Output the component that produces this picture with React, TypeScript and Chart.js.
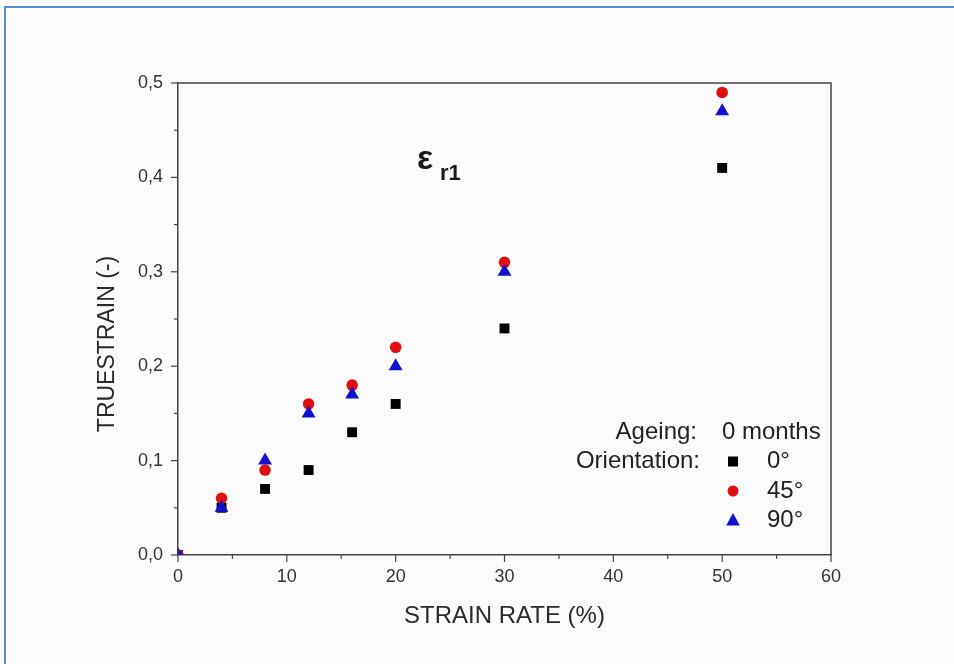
import React, { useEffect, useRef } from "react";
import { Chart, registerables } from "chart.js";

Chart.register(...registerables);

// ---- data ----
const strainRates = [0, 4, 8, 12, 16, 20, 30, 50];
const orient0 = [0, 0.05, 0.07, 0.09, 0.13, 0.16, 0.24, 0.41];
const orient45 = [0, 0.06, 0.09, 0.16, 0.18, 0.22, 0.31, 0.49];
const orient90 = [0, 0.05, 0.1, 0.15, 0.17, 0.2, 0.3, 0.47];
const seriesLabels = ["0°", "45°", "90°"];
const seriesColors = ["#000000", "#e01010", "#1212cc"];
const seriesShapes = ["rect", "circle", "triangle"];
const xTitle = "STRAIN RATE (%)";
const yTitle = "TRUESTRAIN (-)";
const ageingLabel = "Ageing:";
const ageingValue = "0 months";
const orientationLabel = "Orientation:";

const FONT = '"Liberation Sans", Arial, Helvetica, sans-serif';

const toPoints = (ys: number[]) => strainRates.map((x, i) => ({ x, y: ys[i] }));

function drawMarker(ctx: CanvasRenderingContext2D, shape: string, x: number, y: number, color: string) {
  ctx.save();
  ctx.fillStyle = color;
  ctx.beginPath();
  if (shape === "rect") {
    ctx.rect(x - 5, y - 5, 10, 10);
  } else if (shape === "circle") {
    ctx.arc(x, y, 5.5, 0, Math.PI * 2);
  } else {
    ctx.moveTo(x, y - 7.5);
    ctx.lineTo(x + 6.8, y + 5);
    ctx.lineTo(x - 6.8, y + 5);
    ctx.closePath();
  }
  ctx.fill();
  ctx.restore();
}

const decorPlugin = {
  id: "decor",
  afterDraw(chart: any) {
    const ctx: CanvasRenderingContext2D = chart.ctx;
    const { left, right, top, bottom } = chart.chartArea;
    const xs = chart.scales.x;
    const ys = chart.scales.y;
    ctx.save();
    // frame top/right
    ctx.strokeStyle = "#444";
    ctx.lineWidth = 1.5;
    ctx.beginPath();
    ctx.moveTo(left, top);
    ctx.lineTo(right, top);
    ctx.lineTo(right, bottom);
    ctx.stroke();
    // ticks
    ctx.lineWidth = 1.2;
    const xt = xs.ticks.map((t: any) => t.value);
    xt.forEach((v: number, i: number) => {
      const px = xs.getPixelForValue(v);
      ctx.beginPath();
      ctx.moveTo(px, bottom);
      ctx.lineTo(px, bottom + 7);
      ctx.stroke();
      if (i < xt.length - 1) {
        const mx = xs.getPixelForValue((v + xt[i + 1]) / 2);
        ctx.beginPath();
        ctx.moveTo(mx, bottom);
        ctx.lineTo(mx, bottom + 4);
        ctx.stroke();
      }
    });
    const yt = ys.ticks.map((t: any) => t.value);
    yt.forEach((v: number, i: number) => {
      const py = ys.getPixelForValue(v);
      ctx.beginPath();
      ctx.moveTo(left, py);
      ctx.lineTo(left - 7, py);
      ctx.stroke();
      if (i < yt.length - 1) {
        const my = ys.getPixelForValue((v + yt[i + 1]) / 2);
        ctx.beginPath();
        ctx.moveTo(left, my);
        ctx.lineTo(left - 4, my);
        ctx.stroke();
      }
    });

    // y title (drawn manually to match vertical placement)
    ctx.save();
    ctx.translate(left - 70, top + 261);
    ctx.rotate(-Math.PI / 2);
    ctx.font = `23px ${FONT}`;
    ctx.fillStyle = "#2a2a2a";
    ctx.textAlign = "center";
    ctx.textBaseline = "middle";
    ctx.fillText(yTitle, 0, 0);
    ctx.restore();

    // epsilon annotation
    ctx.fillStyle = "#1a1a1a";
    ctx.textBaseline = "alphabetic";
    ctx.textAlign = "left";
    ctx.font = `bold 34px ${FONT}`;
    ctx.fillText("ε", left + 239, top + 86);
    ctx.font = `bold 22px ${FONT}`;
    ctx.fillText("r1", left + 262, top + 97);

    // legend
    ctx.font = `24px ${FONT}`;
    ctx.fillStyle = "#222";
    ctx.textBaseline = "middle";
    const colLabelRight = right - 131;
    const markerX = right - 98;
    const textX = right - 64;
    const row0 = bottom - 123;
    const rowH = 29.5;
    ctx.textAlign = "right";
    ctx.fillText(ageingLabel, colLabelRight - 3, row0);
    ctx.fillText(orientationLabel, colLabelRight, row0 + rowH);
    ctx.textAlign = "left";
    ctx.fillText(ageingValue, right - 109, row0);
    seriesLabels.forEach((lab, i) => {
      const y = row0 + rowH * (i + 1);
      drawMarker(ctx, seriesShapes[i], markerX, y, seriesColors[i]);
      ctx.fillStyle = "#222";
      ctx.fillText(lab, textX, y);
    });
    ctx.restore();
  },
};

export default function App() {
  const ref = useRef<HTMLCanvasElement | null>(null);
  useEffect(() => {
    if (!ref.current) return;
    const seriesData = [orient0, orient45, orient90];
    const radii = [7, 5.8, 8];
    const chart = new Chart(ref.current, {
      type: "scatter",
      data: {
        datasets: seriesData.map((ys, i) => ({
          label: seriesLabels[i],
          data: toPoints(ys),
          pointStyle: seriesShapes[i] as any,
          pointRadius: radii[i],
          backgroundColor: seriesColors[i],
          borderColor: seriesColors[i],
          borderWidth: 0,
          order: 3 - i,
        })),
      },
      options: {
        responsive: false,
        animation: false,
        layout: { padding: { left: 94, right: 123, top: 83, bottom: 33 } },
        plugins: {
          legend: { display: false },
          tooltip: { enabled: false },
        },
        scales: {
          x: {
            type: "linear",
            min: 0,
            max: 60,
            afterFit: (s: any) => {
              s.height = 76;
            },
            ticks: {
              stepSize: 10,
              color: "#333",
              font: { family: FONT, size: 18 },
              padding: 4,
              maxRotation: 0,
            },
            grid: {
              display: true,
              drawOnChartArea: false,
              drawTicks: true,
              tickLength: 7,
              color: "rgba(0,0,0,0)",
            },
            border: { display: true, color: "#444", width: 1.5 },
            title: {
              display: true,
              text: xTitle,
              color: "#2a2a2a",
              font: { family: FONT, size: 24 },
              padding: 0,
            },
          },
          y: {
            type: "linear",
            min: 0,
            max: 0.5,
            afterFit: (s: any) => {
              s.width = 84;
            },
            ticks: {
              stepSize: 0.1,
              color: "#333",
              font: { family: FONT, size: 18 },
              padding: 8,
              callback: (v: any) => Number(v).toFixed(1).replace(".", ","),
            },
            grid: {
              display: true,
              drawOnChartArea: false,
              drawTicks: true,
              tickLength: 7,
              color: "rgba(0,0,0,0)",
            },
            border: { display: true, color: "#444", width: 1.5 },
            title: { display: false, text: yTitle },
          },
        },
      },
      plugins: [decorPlugin],
    });
    return () => chart.destroy();
  }, []);

  return (
    <div style={{ position: "absolute", left: 0, top: 0, width: 954, height: 664, background: "#ffffff", overflow: "hidden" }}>
      <div
        style={{
          position: "absolute",
          left: 4,
          top: 6,
          right: 0,
          bottom: 0,
          borderTop: "2px solid #5b8ccf",
          borderLeft: "2px solid #5b8ccf",
          background: "#fbfbfb",
        }}
      />
      <canvas ref={ref} width={954} height={664} style={{ position: "absolute", left: 0, top: 0, width: 954, height: 664 }} />
    </div>
  );
}
